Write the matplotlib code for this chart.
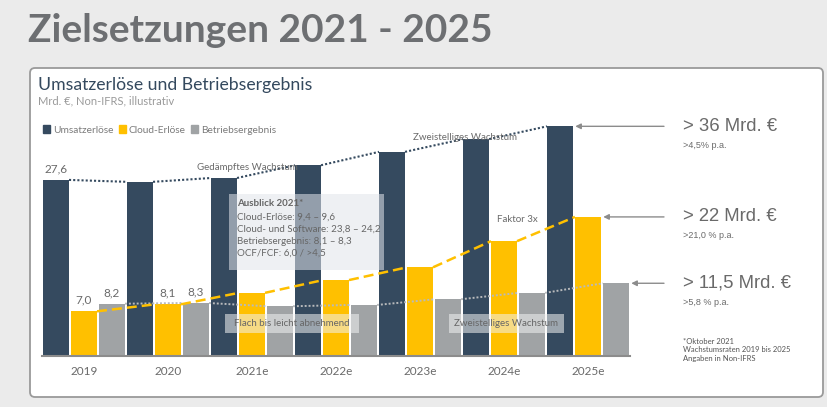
import numpy as np
import matplotlib.pyplot as plt
from matplotlib.patches import FancyBboxPatch, Rectangle, Patch

# data (Mrd. EUR)
years = ['2019', '2020', '2021e', '2022e', '2023e', '2024e', '2025e']
umsatz = [27.6, 27.3, 27.9, 29.9, 32.0, 34.0, 36.0]
cloud = [7.0, 8.1, 9.9, 11.9, 13.9, 18.0, 21.8]
ebit = [8.2, 8.3, 7.8, 8.0, 8.9, 9.9, 11.4]
value_labels = {'umsatz': ['27,6', None], 'cloud': ['7,0', '8,1'], 'ebit': ['8,2', '8,3']}
targets = ['> 36 Mrd. €', '> 22 Mrd. €', '> 11,5 Mrd. €']
rates = ['>4,5% p.a.', '>21,0 % p.a.', '>5,8 % p.a.']
outlook = ['Cloud-Erlöse: 9,4 – 9,6', 'Cloud- und Software: 23,8 – 24,2',
           'Betriebsergebnis: 8,1 – 8,3', 'OCF/FCF: 6,0 / >4,5']
footnote = ['*Oktober 2021', 'Wachstumsraten 2019 bis 2025', 'Angaben in Non-IFRS']

NAVY = '#354a5f'
YELLOW = '#ffc000'
GREY = '#a0a3a5'
TXT = '#6a6a6a'

plt.rcParams['font.family'] = ['Lato', 'DejaVu Sans']

W, H = 828, 407
fig = plt.figure(figsize=(W / 100, H / 100), dpi=100, facecolor='#ebebeb')

# background layer in pixel coords
bg = fig.add_axes([0, 0, 1, 1], zorder=0)
bg.set_xlim(0, W)
bg.set_ylim(H, 0)
bg.axis('off')
bg.add_patch(FancyBboxPatch((30, 68), 793, 329, boxstyle='round,pad=0,rounding_size=5',
                            facecolor='white', edgecolor='#9a9a9a', lw=1.3))
bg.text(28, 42, 'Zielsetzungen 2021 - 2025', fontsize=28, fontweight='bold',
        color='#6d6f72', va='baseline')
bg.text(38, 90, 'Umsatzerlöse und Betriebsergebnis', fontsize=12.7, color='#34495e',
        va='baseline')
bg.text(38, 104, 'Mrd. €, Non-IFRS, illustrativ', fontsize=8, color='#9a9a9a',
        va='baseline')

# chart
px_per_unit = 6.38
ax = fig.add_axes([42 / W, (H - 356) / H, 588 / W, 236 / H], zorder=1)
ax.patch.set_alpha(0)
bw = 0.93
n = len(years)
series = [('umsatz', umsatz, NAVY), ('cloud', cloud, YELLOW), ('ebit', ebit, GREY)]
names = ['Umsatzerlöse', 'Cloud-Erlöse', 'Betriebsergebnis']
for j, (key, vals, col) in enumerate(series):
    pos = np.arange(n) * 3 + j
    ax.bar(pos, vals, width=bw, color=col, zorder=2)
    for i, lab in enumerate(value_labels[key]):
        if lab:
            ax.annotate(lab, (pos[i], vals[i]), xytext=(0, 4), textcoords='offset points',
                        ha='center', va='bottom', fontsize=8.5, color=TXT)

ax.set_xlim(-0.5, 3 * n - 0.5)
ax.set_ylim(0, 236 / px_per_unit)
for s in ['top', 'right', 'left']:
    ax.spines[s].set_visible(False)
ax.spines['bottom'].set_color('#8c8c8c')
ax.spines['bottom'].set_linewidth(1.5)
ax.set_yticks([])
ax.set_xticks(np.arange(n) * 3 + 1)
ax.set_xticklabels(years, fontsize=8.5, color=TXT)
ax.tick_params(axis='x', length=0, pad=7)


def trend(j, vals, **kw):
    for i in range(n - 1):
        x0 = 3 * i + j + bw / 2
        x1 = 3 * (i + 1) + j - bw / 2
        ax.plot([x0, x1], [vals[i], vals[i + 1]], zorder=3, **kw)


trend(0, umsatz, color=NAVY, lw=1.5, ls=(0, (1, 1)))
trend(2, ebit, color='#b8babc', lw=1.4, ls=(0, (1, 1)))
trend(1, cloud, color=YELLOW, lw=1.8, ls=(0, (4, 2)))

ax.legend([Patch(color=c) for _, _, c in series], names, ncol=3, frameon=False,
          loc='center left', bbox_to_anchor=(43 / W, (H - 130) / H),
          bbox_transform=fig.transFigure, fontsize=7.3, labelcolor='#7a7a7a',
          handlelength=0.7, handleheight=0.7, handletextpad=0.3, columnspacing=0.5,
          borderpad=0, borderaxespad=0)

# targets with arrows
for j, (vals, t, r) in enumerate(zip([umsatz, cloud, ebit], targets, rates)):
    tip = 3 * (n - 1) + j + bw / 2 + 0.08
    ax.annotate('', xy=(tip, vals[-1]), xytext=(664, vals[-1]),
                textcoords=('figure pixels', 'data'),
                arrowprops=dict(arrowstyle='-|>', color='#8c8c8c', lw=1,
                                mutation_scale=8, shrinkA=0, shrinkB=0),
                annotation_clip=False)
    ax.annotate(t, xy=(683, vals[-1]), xycoords=('figure pixels', 'data'),
                va='center', fontsize=13.3, color=TXT, family='Liberation Sans',
                annotation_clip=False)
    ax.annotate(r, xy=(683, vals[-1]), xycoords=('figure pixels', 'data'),
                xytext=(0, -13.5), textcoords='offset points', va='center',
                fontsize=6.5, color=TXT, family='Liberation Sans', annotation_clip=False)

# overlay layer: notes and boxes
ov = fig.add_axes([0, 0, 1, 1], zorder=2)
ov.set_xlim(0, W)
ov.set_ylim(H, 0)
ov.axis('off')
ov.text(197, 167, 'Gedämpftes Wachstum', fontsize=7, color=TXT, va='center')
ov.text(413, 137, 'Zweistelliges Wachstum', fontsize=7, color=TXT, va='center')
ov.text(497, 219, 'Faktor 3x', fontsize=7, color=TXT, va='center')

ov.add_patch(Rectangle((229, 194), 155, 76, facecolor='#e1e4ea', alpha=0.55, lw=0))
ov.text(237, 204, 'Ausblick 2021*', fontsize=7, fontweight='bold', color='#666', va='center')
for k, line in enumerate(outlook):
    ov.text(237, 217 + k * 12, line, fontsize=7, color='#666', va='center')

for x0, x1, lab in [(225, 359, 'Flach bis leicht abnehmend'),
                    (449, 564, 'Zweistelliges Wachstum')]:
    ov.add_patch(Rectangle((x0, 314), x1 - x0, 19, facecolor='#f2f2f2', alpha=0.55, lw=0))
    ov.text((x0 + x1) / 2, 324, lab, fontsize=7, color='#666', ha='center', va='center')

for k, line in enumerate(footnote):
    ov.text(683, 342 + k * 8, line, fontsize=5.5, color='#555', va='center')

fig.savefig('out.png', dpi=100, facecolor=fig.get_facecolor())
